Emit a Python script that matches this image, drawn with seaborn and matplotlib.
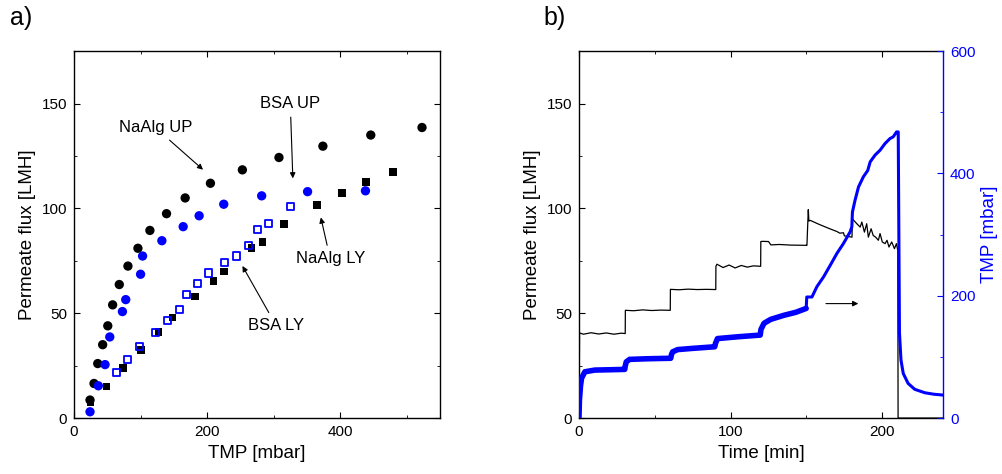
import numpy as np
import pandas as pd
import seaborn as sns
import matplotlib.pyplot as plt
from matplotlib.ticker import MultipleLocator

# panel a) permeate flux vs TMP, four series
naalg_up_tmp = [24, 30, 35.6, 43, 50.7, 58, 68, 81, 96, 114, 139, 167, 205, 253, 308, 374, 446, 523]
naalg_up_flux = [8.6, 16.5, 26, 35, 44, 54, 63.7, 72.5, 81, 89.5, 97.5, 105, 112, 118.4, 124.3, 129.7, 135, 138.6]

bsa_up_tmp = [24, 36.5, 46.6, 53.7, 72.7, 77.7, 100, 103, 132, 164, 188, 225, 282, 351, 438]
bsa_up_flux = [3, 15.4, 25.5, 38.7, 50.8, 56.5, 68.6, 77.3, 84.6, 91.3, 96.5, 102, 106, 108, 108.4]

naalg_ly_tmp = [25, 49, 74, 101, 127, 148, 182, 209.5, 225, 267, 283, 316, 365, 402.5, 439, 479]
naalg_ly_flux = [7.8, 15, 24, 32.4, 41, 48, 58, 65.4, 70, 81, 84, 92.5, 101.7, 107.3, 112.7, 117.3]

bsa_ly_tmp = [64, 81, 98, 122, 140, 159, 169.5, 186, 201.5, 225.6, 243.6, 261.7, 276, 292, 326]
bsa_ly_flux = [21.6, 28, 34, 40.6, 46.7, 52, 59, 64, 69.2, 74, 77.3, 82.5, 90, 92.7, 101]

# panel b) flux and TMP over time
flux_time = [0, 0.4, 3, 8, 13, 18, 23, 28, 30.5, 30.6, 36, 42, 48, 54, 60.2, 60.3, 66, 72, 78, 84,
             90.2, 90.3, 91, 95, 99, 103, 107, 111, 115, 119.8, 119.9, 121, 125, 126.5, 132, 140,
             150.2, 150.3, 151.2, 151.6, 152.5, 158, 165, 170, 172, 174.4, 175, 180, 180.3, 183.2,
             185.4, 186.5, 188.2, 189.7, 190.8, 192.6, 194, 195.6, 197.4, 198.5, 200, 201.8, 203.1,
             204.4, 206.2, 208, 209.3, 210.2, 210.4, 240]
flux = [0, 40.6, 40.0, 40.7, 40.1, 40.6, 40.0, 40.5, 40.3, 51.4, 51.2, 51.6, 51.3, 51.5, 51.4, 61.4,
        61.2, 61.5, 61.3, 61.4, 61.3, 72.4, 73.4, 71.8, 73.0, 71.6, 72.8, 72.0, 72.6, 72.4, 84.2, 84.3,
        84.2, 82.6, 82.8, 82.5, 82.4, 82.4, 99.4, 94.0, 94.3, 92.5, 90.4, 89.0, 88.2, 88.4, 86.9, 86.3,
        95.0, 92.7, 91.1, 93.5, 88.7, 92.7, 86.3, 90.3, 87.1, 86.3, 84.8, 88.0, 84.0, 83.2, 84.8, 81.6,
        84.0, 80.8, 83.2, 80.0, 0, 0]

tmp_time = [0, 0.3, 1.0, 1.7, 3.9, 10.5, 20, 30.2, 30.5, 31.2, 33.4, 45, 60.5, 61.0, 61.8, 65.1, 75,
            89.5, 90.0, 91.3, 105, 119.5, 120.0, 122, 126.4, 135, 143, 149.8, 150.2, 153.6, 156.9,
            161.3, 165.7, 170, 174.4, 178.8, 179.9, 180.3, 182, 184.3, 187.5, 190.4, 192, 195.2,
            198.5, 201.8, 205, 207.2, 209.4, 210.5, 211.3, 212.3, 213.8, 217, 221.4, 228, 234, 240]
tmp = [0, 29, 52, 65, 75.7, 78.5, 79, 79.6, 85, 92, 96, 97, 97.8, 104, 108.4, 112, 114, 116.6, 122,
       130, 133, 135.7, 145, 155, 161.4, 168, 173, 179.3, 198, 198, 215, 231, 250, 269, 285.6, 304.6,
       312.7, 337, 356, 378, 394.5, 405, 419, 430, 438, 449, 457, 460, 468, 468, 140, 95, 73, 56.7,
       47, 41.4, 39, 37.6]

sns.set_style('ticks')
plt.rcParams['font.family'] = ['Liberation Sans', 'DejaVu Sans']
plt.rcParams['axes.linewidth'] = 1.0
for key in ['text.color', 'axes.labelcolor', 'axes.edgecolor', 'xtick.color', 'ytick.color']:
    plt.rcParams[key] = 'black'

fig = plt.figure(figsize=(10.02, 4.74), dpi=100)
ax1 = fig.add_axes([0.0739, 0.118, 0.3652, 0.774])
ax2 = fig.add_axes([0.5778, 0.118, 0.3633, 0.774])

# --- a)
sns.scatterplot(x=naalg_up_tmp, y=naalg_up_flux, ax=ax1, color='black', marker='o', s=45, edgecolor='none')
sns.scatterplot(x=bsa_up_tmp, y=bsa_up_flux, ax=ax1, color='blue', marker='o', s=45, edgecolor='none')
sns.scatterplot(x=naalg_ly_tmp, y=naalg_ly_flux, ax=ax1, color='black', marker='s', s=30, edgecolor='none')
sns.scatterplot(x=bsa_ly_tmp, y=bsa_ly_flux, ax=ax1, color='blue', marker='s', s=26,
                facecolors='none', edgecolor='blue', linewidth=1.3)

ax1.set_xlim(0, 550)
ax1.set_ylim(0, 175)
ax1.xaxis.set_major_locator(MultipleLocator(200))
ax1.xaxis.set_minor_locator(MultipleLocator(100))
ax1.yaxis.set_major_locator(MultipleLocator(50))
ax1.yaxis.set_minor_locator(MultipleLocator(25))
ax1.set_xlabel('TMP [mbar]', fontsize=13.5)
ax1.set_ylabel('Permeate flux [LMH]', fontsize=13.5)

arrow = dict(arrowstyle='-|>', color='black', lw=0.8, mutation_scale=8)
ax1.annotate('NaAlg UP', xy=(197, 117.6), xytext=(122, 138.6), ha='center', va='center',
             fontsize=12, arrowprops=arrow)
ax1.annotate('BSA UP', xy=(329, 113), xytext=(325, 150), ha='center', va='center',
             fontsize=12, arrowprops=arrow)
ax1.annotate('NaAlg LY', xy=(370, 97), xytext=(385, 76), ha='center', va='center',
             fontsize=12, arrowprops=arrow)
ax1.annotate('BSA LY', xy=(251, 73.7), xytext=(304, 44), ha='center', va='center',
             fontsize=12, arrowprops=arrow)

# --- b)
sns.lineplot(x=flux_time, y=flux, ax=ax2, color='black', lw=0.9, sort=False, estimator=None)
ax2.set_xlim(0, 240)
ax2.set_ylim(0, 175)
ax2.xaxis.set_major_locator(MultipleLocator(100))
ax2.xaxis.set_minor_locator(MultipleLocator(50))
ax2.yaxis.set_major_locator(MultipleLocator(50))
ax2.yaxis.set_minor_locator(MultipleLocator(25))
ax2.set_xlabel('Time [min]', fontsize=13.5)
ax2.set_ylabel('Permeate flux [LMH]', fontsize=13.5)

ax3 = ax2.twinx()
n_steps = tmp_time.index(150.2)
sns.lineplot(x=tmp_time[:n_steps], y=tmp[:n_steps], ax=ax3, color='blue', lw=4, sort=False, estimator=None)
sns.lineplot(x=tmp_time[n_steps - 1:], y=tmp[n_steps - 1:], ax=ax3, color='blue', lw=2.2, sort=False, estimator=None)
ax3.set_ylim(0, 600)
ax3.yaxis.set_major_locator(MultipleLocator(200))
ax3.yaxis.set_minor_locator(MultipleLocator(100))
ax3.set_ylabel('TMP [mbar]', fontsize=13.5, color='blue')
ax3.spines['right'].set_color('blue')
ax3.tick_params(axis='y', which='both', colors='blue', direction='in', labelsize=11, pad=5)
ax3.tick_params(axis='y', which='major', length=4)
ax3.tick_params(axis='y', which='minor', length=2.5)
for s in ['left', 'top', 'bottom']:
    ax3.spines[s].set_visible(False)

ax2.annotate('', xy=(186, 54.6), xytext=(161, 54.6),
             arrowprops=dict(arrowstyle='-|>', color='black', lw=0.8, mutation_scale=8))

for ax, right in [(ax1, True), (ax2, False)]:
    ax.tick_params(which='both', direction='in', top=True, right=right, labelsize=11, pad=5)
    ax.tick_params(which='major', length=4)
    ax.tick_params(which='minor', length=2.5)
    for s in ax.spines.values():
        s.set_linewidth(1.0)
ax2.spines['right'].set_visible(False)

fig.text(0.010, 0.962, 'a)', fontsize=18, va='center')
fig.text(0.542, 0.962, 'b)', fontsize=18, va='center')

fig.savefig('out.png', dpi=100)
